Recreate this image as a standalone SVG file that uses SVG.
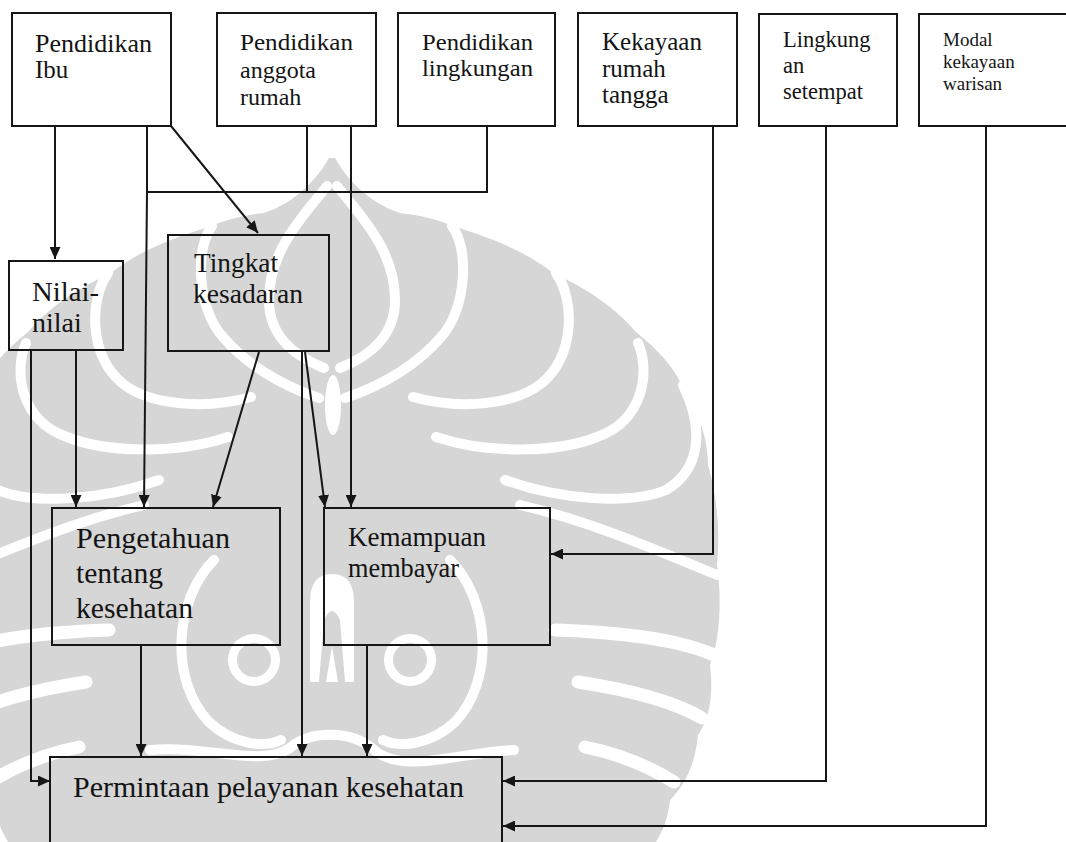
<svg xmlns="http://www.w3.org/2000/svg" width="1066" height="842" viewBox="0 0 1066 842">
<defs>
<style>
.box{fill:none;stroke:#161616;stroke-width:2}
.t{font-family:"Liberation Serif","Times New Roman",serif;fill:#141414}
.c{fill:none;stroke:#161616;stroke-width:2}
.wm{fill:#d6d6d6}
.gap{fill:none;stroke:#ffffff;stroke-width:10;stroke-linecap:round}
.gap2{fill:none;stroke:#ffffff;stroke-width:13;stroke-linecap:round}
</style>
<marker id="ah" viewBox="0 0 12 11" refX="12" refY="5.5" markerWidth="12" markerHeight="11" markerUnits="userSpaceOnUse" orient="auto"><path d="M0,0 L12,5.5 L0,11 Z" fill="#161616"/></marker>
<g id="half">
<path class="wm" d="M335,158 C350,185 375,205 400,213 C420,215 440,220 455,227 C500,240 530,255 553,273 C590,290 615,308 636,332 C658,350 672,365 682,385 C700,415 708,440 708,465 C718,500 720,535 717,565 C722,600 720,640 710,665 C714,700 708,720 698,735 C695,765 685,785 670,800 C668,820 662,832 656,842 L332,842 L332,158 Z"/>
<path class="gap" d="M337,186 C360,215 395,250 395,300 C395,335 372,355 340,368"/>
<path class="gap" d="M452,226 C470,250 466,310 441,337 C420,362 385,385 345,398"/>
<path class="gap" d="M556,273 C575,300 575,355 542,383 C515,405 460,410 413,397"/>
<path class="gap" d="M638,343 C650,370 645,420 597,437 C560,452 490,455 436,437"/>
<path class="gap" d="M683,385 C705,430 700,470 666,490 C630,505 560,500 505,480"/>
<path class="gap" d="M520,505 C585,520 645,545 717,575"/>
<path class="gap2" d="M555,630 C620,632 680,640 714,655"/>
<path class="gap2" d="M578,682 C630,690 675,702 702,718"/>
<path class="gap2" d="M585,747 C620,754 650,767 674,782"/>
<path class="gap" d="M450,560 C490,600 495,680 455,722 C430,745 400,748 383,740"/>
<circle cx="410" cy="660" r="26" fill="#fff"/>
<circle cx="410" cy="660" r="17" class="wm"/>
</g>
</defs>
<rect width="1066" height="842" fill="#ffffff"/>
<g id="watermark">
<use href="#half"/>
<use href="#half" transform="translate(664,0) scale(-1,1)"/>
<ellipse cx="333" cy="405" rx="8" ry="30" fill="#fff"/>
<path d="M310,682 L310,602 Q310,574 332,574 Q354,574 354,602 L354,682 Z" fill="#fff"/>
<path d="M319,682 L324,620 Q332,602 340,620 L345,682 L338,682 L332,646 L326,682 Z" class="wm"/>
<path class="gap" d="M150,750 C210,745 260,768 290,748 C310,730 352,730 374,750 C404,775 460,752 514,750"/>
</g>
<g id="connectors">
<path class="c" d="M55,126 V259" marker-end="url(#ah)"/>
<path class="c" d="M171,126 L258,233" marker-end="url(#ah)"/>
<path class="c" d="M147,126 V192 H487 V126 M307,126 V192"/>
<path class="c" d="M147,192 L144,507" marker-end="url(#ah)"/>
<path class="c" d="M351,126 V507" marker-end="url(#ah)"/>
<path class="c" d="M76,350 V507" marker-end="url(#ah)"/>
<path class="c" d="M31,350 V781 H50" marker-end="url(#ah)"/>
<path class="c" d="M259,352 L213,507" marker-end="url(#ah)"/>
<path class="c" d="M305,352 L325,507" marker-end="url(#ah)"/>
<path class="c" d="M302,352 V756" marker-end="url(#ah)"/>
<path class="c" d="M141,645 V756" marker-end="url(#ah)"/>
<path class="c" d="M367,645 V756" marker-end="url(#ah)"/>
<path class="c" d="M713,126 V554 H551" marker-end="url(#ah)"/>
<path class="c" d="M826,126 V781 H503" marker-end="url(#ah)"/>
<path class="c" d="M986,126 V826 H503" marker-end="url(#ah)"/>
</g>
<g id="n-ibu"><rect class="box" x="12" y="13" width="159" height="113"/><text class="t" font-size="25"><tspan x="35" y="52" textLength="117" lengthAdjust="spacingAndGlyphs">Pendidikan</tspan><tspan x="35" y="78">Ibu</tspan></text></g>
<g id="n-anggota"><rect class="box" x="217" y="13" width="159" height="113"/><text class="t" font-size="24"><tspan x="240" y="50" textLength="113" lengthAdjust="spacingAndGlyphs">Pendidikan</tspan><tspan x="240" y="78">anggota</tspan><tspan x="240" y="105">rumah</tspan></text></g>
<g id="n-lingkungan"><rect class="box" x="398" y="13" width="157" height="113"/><text class="t" font-size="24"><tspan x="422" y="50" textLength="111" lengthAdjust="spacingAndGlyphs">Pendidikan</tspan><tspan x="422" y="76" textLength="111" lengthAdjust="spacingAndGlyphs">lingkungan</tspan></text></g>
<g id="n-kekayaan"><rect class="box" x="578" y="13" width="159" height="113"/><text class="t" font-size="25"><tspan x="602" y="50">Kekayaan</tspan><tspan x="602" y="77">rumah</tspan><tspan x="602" y="103">tangga</tspan></text></g>
<g id="n-setempat"><rect class="box" x="759" y="14" width="138" height="112"/><text class="t" font-size="22.5"><tspan x="783" y="47">Lingkung</tspan><tspan x="783" y="73">an</tspan><tspan x="783" y="99">setempat</tspan></text></g>
<g id="n-warisan"><rect class="box" x="919" y="14" width="160" height="112"/><text class="t" font-size="19"><tspan x="943" y="46">Modal</tspan><tspan x="943" y="68">kekayaan</tspan><tspan x="943" y="90">warisan</tspan></text></g>
<g id="n-nilai"><rect class="box" x="9" y="261" width="114" height="89"/><text class="t" font-size="28"><tspan x="32" y="301" textLength="67" lengthAdjust="spacingAndGlyphs">Nilai-</tspan><tspan x="32" y="332">nilai</tspan></text></g>
<g id="n-tingkat"><rect class="box" x="168" y="235" width="161" height="116"/><text class="t" font-size="27"><tspan x="194" y="272" textLength="84" lengthAdjust="spacingAndGlyphs">Tingkat</tspan><tspan x="193" y="303" textLength="110" lengthAdjust="spacingAndGlyphs">kesadaran</tspan></text></g>
<g id="n-pengetahuan"><rect class="box" x="52" y="508" width="228" height="137"/><text class="t" font-size="29"><tspan x="76" y="548" textLength="154" lengthAdjust="spacingAndGlyphs">Pengetahuan</tspan><tspan x="76" y="583" textLength="87" lengthAdjust="spacingAndGlyphs">tentang</tspan><tspan x="76" y="618" textLength="117" lengthAdjust="spacingAndGlyphs">kesehatan</tspan></text></g>
<g id="n-kemampuan"><rect class="box" x="324" y="508" width="226" height="137"/><text class="t" font-size="26.5"><tspan x="348" y="546" textLength="138" lengthAdjust="spacingAndGlyphs">Kemampuan</tspan><tspan x="348" y="577" textLength="111" lengthAdjust="spacingAndGlyphs">membayar</tspan></text></g>
<g id="n-permintaan"><rect class="box" x="50" y="757" width="452" height="110"/><text class="t" font-size="30"><tspan x="73" y="797" textLength="391" lengthAdjust="spacingAndGlyphs">Permintaan pelayanan kesehatan</tspan></text></g>
</svg>
